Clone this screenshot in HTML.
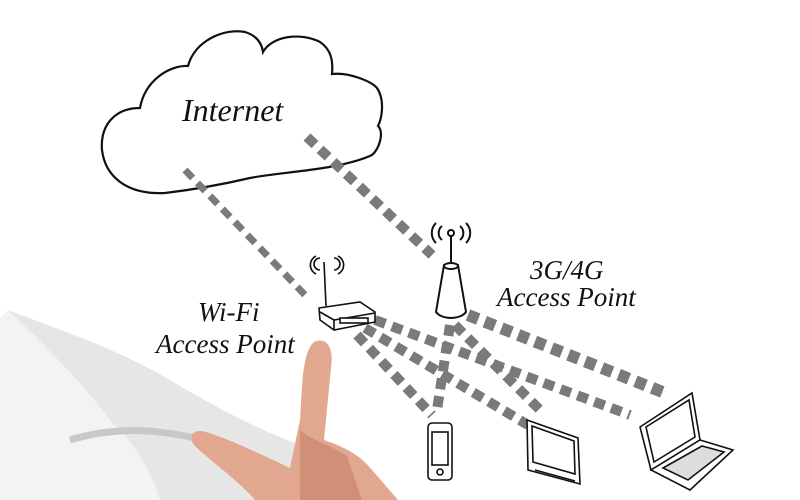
<!DOCTYPE html>
<html><head><meta charset="utf-8"><style>
html,body{margin:0;padding:0;background:#fff;}
svg{display:block}
text{font-family:"Liberation Serif",serif;font-style:italic;fill:#111}
</style></head><body>
<svg width="800" height="500" viewBox="0 0 800 500" xmlns="http://www.w3.org/2000/svg">
<rect width="800" height="500" fill="#fff"/>
<!-- shirt -->
<path d="M8,310 C60,330 120,350 170,380 C220,410 260,430 300,445 L330,500 L0,500 L0,318 Z" fill="#e6e6e6"/>
<path d="M8,310 C40,340 80,380 110,420 C140,450 150,470 160,500 L0,500 L0,318Z" fill="#f3f3f3"/>
<path d="M70,440 C120,425 160,430 205,440" stroke="#c8c8c8" stroke-width="7" fill="none"/>
<!-- hand -->
<path d="M314,342 C327,336 334,348 331,368 L324,440 C338,445 358,452 372,470 L398,500 L255,500 C240,482 212,462 196,447 C186,437 193,428 206,432 C232,440 262,455 290,468 L300,420 C302,390 302,352 314,342 Z" fill="#e2a78f"/>
<path d="M300,430 C312,440 332,446 347,456 L362,500 L300,500 Z" fill="#d08f76"/>
<!-- cloud -->
<path d="M140,108 C145,80 170,65 188,66 C195,40 225,28 245,32 C258,36 262,45 263,52 C272,36 300,32 320,42 C332,50 333,62 332,74 C350,72 372,82 377,88 C385,100 382,118 378,126 C384,132 380,148 372,155 C340,170 280,172 250,178 C220,185 190,190 165,193 C125,195 105,175 102,150 C100,125 115,108 140,108 Z" fill="#fff" stroke="#111" stroke-width="2.2"/>
<text x="182" y="121" font-size="32">Internet</text>
<!-- dashed links -->
<g stroke="#7a7a7a" fill="none" stroke-dasharray="11,7">
<path d="M185,170 L305,295" stroke-width="7"/>
<path d="M307,137 L432,255" stroke-width="10"/>
<path d="M357,335 L432,415" stroke-width="10"/>
<path d="M365,328 L528,425" stroke-width="10"/>
<path d="M375,320 L630,415" stroke-width="10"/>
<path d="M450,325 L437,410" stroke-width="10"/>
<path d="M455,325 L540,410" stroke-width="10"/>
<path d="M468,315 L665,393" stroke-width="12"/>
</g>
<!-- router -->
<g stroke="#111" stroke-width="1.6" fill="#fff">
<line x1="324" y1="262" x2="326" y2="306"/>
<path d="M319,308 L360,302 L375,312 L375,322 L334,330 L320,320 Z"/>
<path d="M320,312 L334,320 L375,313" fill="none"/>
<line x1="334" y1="320" x2="334" y2="330"/>
<rect x="340" y="318" width="28" height="5" fill="#fff"/>
<path d="M318,270 a6,6 0 0 1 0,-12 M314,274 a10,10 0 0 1 0,-18 M332,270 a6,6 0 0 0 0,-12 M336,274 a10,10 0 0 0 0,-18" fill="none" transform="translate(2,0)"/>
</g>
<!-- tower -->
<g stroke="#111" stroke-width="2" fill="#fff">
<line x1="451" y1="236" x2="451" y2="264"/>
<circle cx="451" cy="233" r="3"/>
<path d="M444,265 L458,265 L466,312 C460,320 442,320 436,312 Z"/>
<ellipse cx="451" cy="266" rx="7" ry="3"/>
<path d="M442,240 a9,9 0 0 1 0,-14 M436,243 a14,14 0 0 1 0,-20 M460,240 a9,9 0 0 0 0,-14 M466,243 a14,14 0 0 0 0,-20" fill="none"/>
</g>
<!-- phone -->
<g stroke="#111" stroke-width="1.6" fill="#fff">
<rect x="428" y="423" width="24" height="57" rx="4"/>
<rect x="432" y="432" width="16" height="33"/>
<circle cx="440" cy="472" r="3"/>
</g>
<!-- tablet -->
<g stroke="#111" stroke-width="1.6" fill="#fff">
<path d="M527,420 L578,438 L580,484 L528,470 Z"/>
<path d="M532,426 L574,441 L575,474 L533,462 Z"/>
<path d="M535,470 L575,481"/>
</g>
<!-- laptop -->
<g stroke="#111" stroke-width="1.6" fill="#fff">
<path d="M640,427 L692,393 L700,440 L651,470 Z"/>
<path d="M646,427 L689,400 L695,437 L654,462 Z"/>
<path d="M651,470 L700,440 L733,450 L690,490 Z"/>
<path d="M663,468 L702,446 L724,452 L688,480 Z" fill="#ddd"/>
</g>
<text x="530" y="279" font-size="27">3G/4G</text>
<text x="497" y="306" font-size="27">Access Point</text>
<text x="198" y="321" font-size="27">Wi-Fi</text>
<text x="156" y="353" font-size="27">Access Point</text>
</svg>
</body></html>
